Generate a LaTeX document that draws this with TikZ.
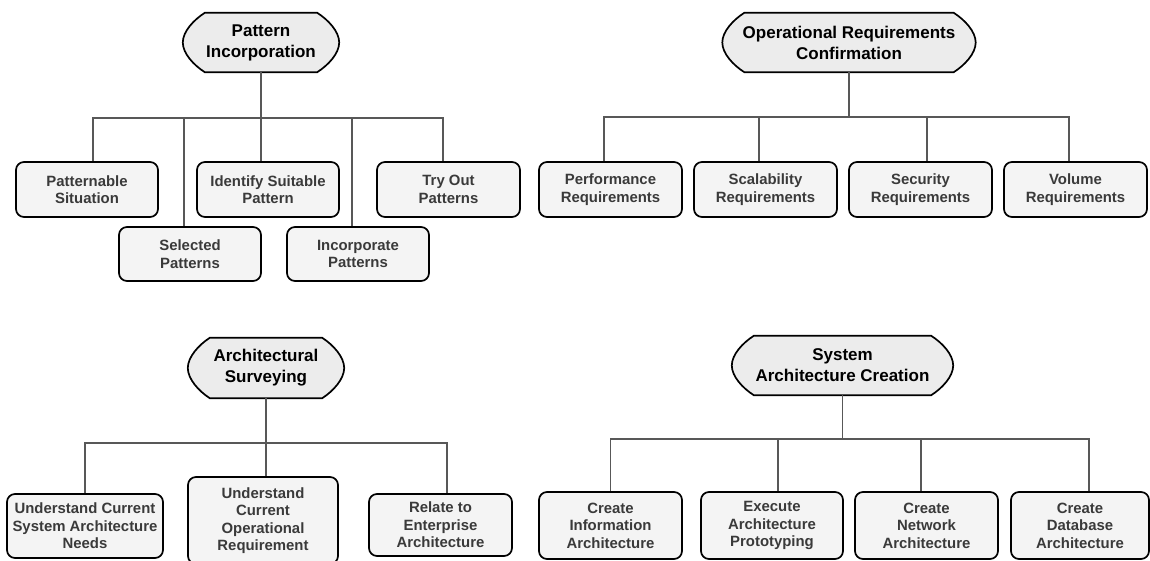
\documentclass[tikz,border=0pt]{standalone}
\usepackage{fontspec}
\setmainfont{Liberation Sans}
\usetikzlibrary{calc,backgrounds}

\definecolor{rootfill}{RGB}{236,236,236}
\definecolor{leaffill}{RGB}{244,244,244}
\definecolor{leaftext}{RGB}{58,58,58}
\definecolor{wire}{RGB}{88,88,88}

\tikzset{
  leaf/.style={draw=black, line width=1.7bp, rounded corners=8bp, fill=leaffill,
    text=leaftext, font=\bfseries\fontsize{14.9bp}{17.5bp}\selectfont,
    align=center, inner sep=0pt},
  root/.style={inner sep=0pt, text=black, align=center,
    font=\bfseries\fontsize{17bp}{21bp}\selectfont},
  rootline/.style={draw=black, line width=1.7bp, fill=rootfill},
  conn/.style={draw=wire, line width=1.2bp},
}

% terminator-like outline around a root node: flat top and bottom, bulging sides
\newcommand\rootframe[1]{%
  \path[rootline] ($(#1.north west)+(22,0)$) -- ($(#1.north east)+(-22,0)$)
    .. controls ($(#1.north east)+(-11,7)$) and ($(#1.east)+(0,-11)$) .. (#1.east)
    .. controls ($(#1.east)+(0,11)$) and ($(#1.south east)+(-11,-7)$) .. ($(#1.south east)+(-22,0)$)
    -- ($(#1.south west)+(22,0)$)
    .. controls ($(#1.south west)+(11,-7)$) and ($(#1.west)+(0,11)$) .. (#1.west)
    .. controls ($(#1.west)+(0,-11)$) and ($(#1.north west)+(11,7)$) .. cycle;}

\begin{document}
\begin{tikzpicture}[x=1bp, y=-1bp]
\useasboundingbox (0,0) rectangle (1150,561);

% ---------- Pattern Incorporation ----------
\node[root, minimum width=156bp, minimum height=59bp] (pinc) at (261,42.5) {Pattern\\Incorporation};
\coordinate (b1) at (261,118);
\node[leaf, minimum width=142bp, minimum height=55bp] (ps)    at (87,189.5)  {Patternable\\Situation};
\node[leaf, minimum width=142bp, minimum height=54bp] (sel)   at (190,254)   {Selected\\Patterns};
\node[leaf, minimum width=142bp, minimum height=55bp] (ident) at (268,189.5) {Identify Suitable\\Pattern};
\node[leaf, minimum width=142bp, minimum height=54bp] (incp)  at (358,254)   {Incorporate\\Patterns};
\node[leaf, minimum width=143bp, minimum height=55bp] (tryo)  at (448.5,189.5) {Try Out\\Patterns};
\draw[conn] (pinc.south) -- (b1);
\draw[conn] ([xshift=6bp]ps.north) |- (b1);
\draw[conn] ([xshift=-6bp]sel.north) |- (b1);
\draw[conn] ([xshift=-7bp]ident.north) |- (b1);
\draw[conn] ([xshift=-6bp]incp.north) |- (b1);
\draw[conn] ([xshift=-5.5bp]tryo.north) |- (b1);

% ---------- Operational Requirements Confirmation ----------
\node[root, minimum width=253bp, minimum height=59bp] (orc) at (849,42.5) {Operational Requirements\\Confirmation};
\coordinate (b2) at (849,117);
\node[leaf, minimum width=143bp, minimum height=55bp] (perf) at (610.5,189.5)  {Performance\\Requirements};
\node[leaf, minimum width=143bp, minimum height=55bp] (scal) at (765.5,189.5)  {Scalability\\Requirements};
\node[leaf, minimum width=143bp, minimum height=55bp] (secu) at (920.5,189.5)  {Security\\Requirements};
\node[leaf, minimum width=143bp, minimum height=55bp] (volu) at (1075.5,189.5) {Volume\\Requirements};
\draw[conn] (orc.south) -- (b2);
\draw[conn] ([xshift=-6.5bp]perf.north) |- (b2);
\draw[conn] ([xshift=-6.5bp]scal.north) |- (b2);
\draw[conn] ([xshift=6.5bp]secu.north) |- (b2);
\draw[conn] ([xshift=-6.5bp]volu.north) |- (b2);

% ---------- Architectural Surveying ----------
\node[root, minimum width=156bp, minimum height=60bp] (asv) at (266,368) {Architectural\\Surveying};
\coordinate (b3) at (266,443);
\node[leaf, minimum width=156bp, minimum height=64bp] (need) at (85,526)    {Understand Current\\System Architecture\\Needs};
\node[leaf, minimum width=150bp, minimum height=87bp] (oper) at (263,520.5) {Understand\\Current\\Operational\\Requirement};
\node[leaf, minimum width=143bp, minimum height=62bp] (rel)  at (440.5,525) {Relate to\\Enterprise\\Architecture};
\draw[conn] (asv.south) -- (b3);
\draw[conn] (need.north) |- (b3);
\draw[conn] ([xshift=3bp]oper.north) |- (b3);
\draw[conn] ([xshift=6.5bp]rel.north) |- (b3);

% ---------- System Architecture Creation ----------
\node[root, minimum width=221bp, minimum height=59bp] (sac) at (842.5,365.5) {System\\Architecture Creation};
\coordinate (b4) at (842.5,439);
\node[leaf, minimum width=143bp, minimum height=67bp] (cinfo) at (610.5,525.5) {Create\\Information\\Architecture};
\node[leaf, minimum width=142bp, minimum height=67bp] (exec)  at (772,525.5)   {Execute\\Architecture\\Prototyping};
\node[leaf, minimum width=143bp, minimum height=67bp] (cnet)  at (926.5,525.5) {Create\\Network\\Architecture};
\node[leaf, minimum width=138bp, minimum height=67bp] (cdb)   at (1080,525.5)  {Create\\Database\\Architecture};
\draw[conn] (sac.south) -- (b4);
\draw[conn] (cinfo.north) |- (b4);
\draw[conn] ([xshift=6bp]exec.north) |- (b4);
\draw[conn] ([xshift=-5.5bp]cnet.north) |- (b4);
\draw[conn] ([xshift=9bp]cdb.north) |- (b4);

% root outlines sit behind their labels
\begin{scope}[on background layer]
  \rootframe{pinc}
  \rootframe{orc}
  \rootframe{asv}
  \rootframe{sac}
\end{scope}
\end{tikzpicture}
\end{document}
